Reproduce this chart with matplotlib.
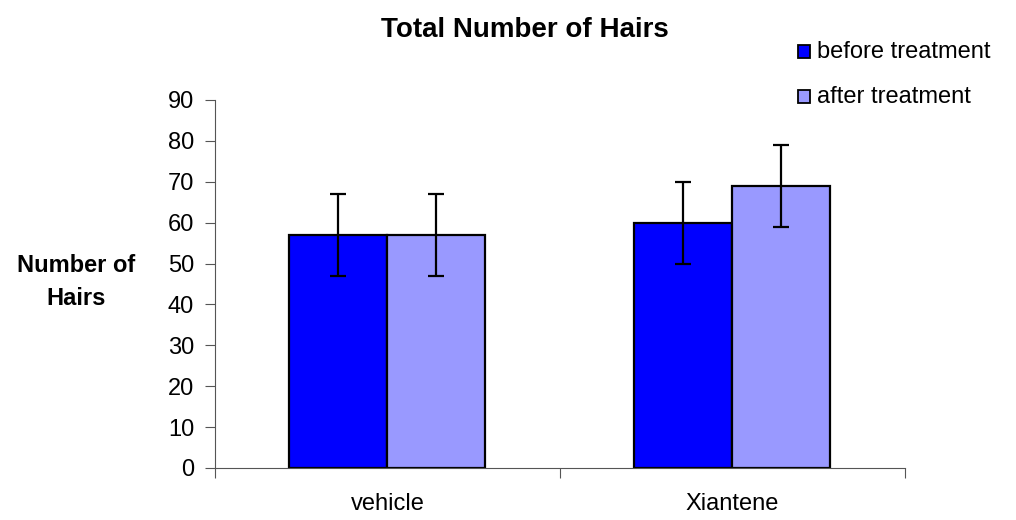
import numpy as np
import matplotlib.pyplot as plt
from matplotlib.patches import Rectangle

plt.rcParams['font.family'] = ['Liberation Sans', 'DejaVu Sans']

groups = ['vehicle', 'Xiantene']
before = [57, 60]
after = [57, 69]
before_err = [10, 10]
after_err = [10, 10]
series = ['before treatment', 'after treatment']
colors = ['#0000FF', '#9999FF']

fig = plt.figure(figsize=(10.16, 5.2), dpi=100)
ax = fig.add_axes([0.2116, 0.1, 0.679, 0.7077])

x = np.arange(len(groups)) + 0.5
w = 0.284
ek = dict(ecolor='black', elinewidth=1.6, capsize=5.5, capthick=1.6)
ax.bar(x - w/2, before, w, yerr=before_err, color=colors[0], edgecolor='black', linewidth=1.6, error_kw=ek)
ax.bar(x + w/2, after, w, yerr=after_err, color=colors[1], edgecolor='black', linewidth=1.6, error_kw=ek)

ax.set_xlim(0, len(groups))
ax.set_ylim(0, 90)
ax.set_yticks(range(0, 91, 10))
ax.set_xticks(np.arange(len(groups) + 1))
ax.set_xticklabels([])
ax.set_xticks(x, minor=True)
ax.set_xticklabels(groups, minor=True, fontsize=17)
ax.tick_params(axis='x', which='minor', length=0, pad=18)
ax.tick_params(axis='x', which='major', length=7, color='#555555')
ax.tick_params(axis='y', labelsize=17, length=7, color='#555555', pad=8)
for s in ['top', 'right']:
    ax.spines[s].set_visible(False)
ax.spines['left'].set_color('#555555')
ax.spines['bottom'].set_color('#555555')

fig.text(0.517, 0.942, 'Total Number of Hairs', ha='center', va='center', fontsize=20, fontweight='bold')
fig.text(0.075, 0.457, 'Number of\nHairs', ha='center', va='center', fontsize=17, fontweight='bold', linespacing=1.55)

# legend
for i, (lab, c) in enumerate(zip(series, colors)):
    yy = 0.9 - i * 0.086
    fig.patches.append(Rectangle((0.785, yy - 0.0125), 0.0125, 0.025, transform=fig.transFigure,
                                 facecolor=c, edgecolor='black', linewidth=1.3))
    fig.text(0.804, yy, lab, ha='left', va='center', fontsize=17)

plt.savefig('out.png')
